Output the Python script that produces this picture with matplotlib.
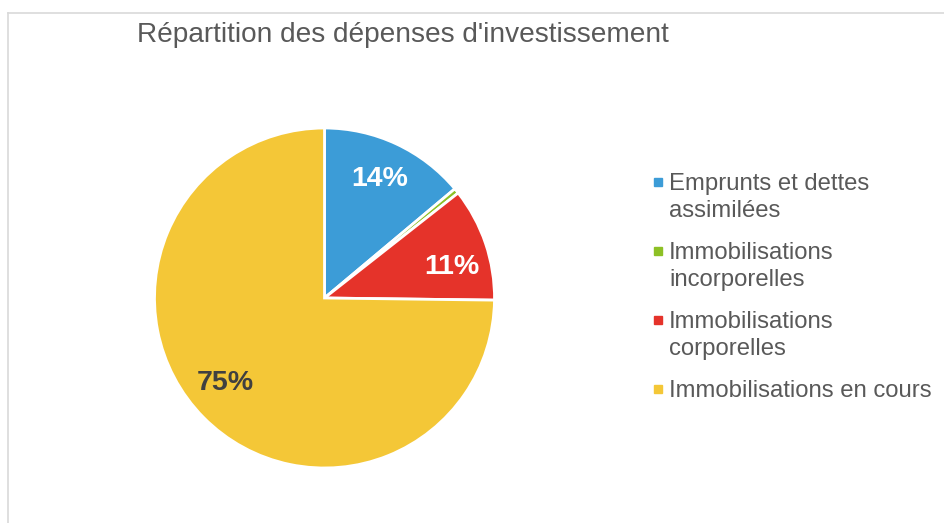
import matplotlib
matplotlib.use("Agg")
import matplotlib.pyplot as plt
from matplotlib.lines import Line2D
import numpy as np

plt.rcParams["font.family"] = ["Liberation Sans", "DejaVu Sans"]

categories = [
    "Emprunts et dettes\nassimilées",
    "Immobilisations\nincorporelles",
    "Immobilisations\ncorporelles",
    "Immobilisations en cours",
]
shares = [13.9, 0.5, 10.8, 74.8]
labels_pct = ["14%", "", "11%", "75%"]
colors = ["#3C9CD7", "#8DC025", "#E5332A", "#F4C737"]
label_colors = ["white", "white", "white", "#404040"]

W, H = 945, 523
fig = plt.figure(figsize=(W / 100, H / 100), dpi=100)

# light frame around the chart area (cut off at right and bottom)
fig.add_artist(Line2D([8 / W, 8 / W], [0, 1 - 13 / H], color="#d9d9d9", lw=1.2))
fig.add_artist(Line2D([8 / W, 1], [1 - 13 / H, 1 - 13 / H], color="#d9d9d9", lw=1.2))

cx, cy, r = 324.5, 298, 170
ax = fig.add_axes([(cx - r) / W, (H - cy - r) / H, 2 * r / W, 2 * r / H])
wedges, _ = ax.pie(
    shares,
    colors=colors,
    startangle=90,
    counterclock=False,
    wedgeprops={"edgecolor": "white", "linewidth": 2},
    radius=1,
)
ax.set_xlim(-1, 1)
ax.set_ylim(-1, 1)
ax.axis("off")

# percentage labels (Excel puts them a bit off the mid-angle)
nudge = [0, 0, -5, -4]
for w, lab, c, dn in zip(wedges, labels_pct, label_colors, nudge):
    mid = np.deg2rad((w.theta1 + w.theta2) / 2 + dn)
    if lab:
        ax.text(0.77 * np.cos(mid), 0.77 * np.sin(mid), lab, ha="center", va="center",
                fontsize=20.5, fontweight="bold", color=c)

fig.text(137 / W, 1 - 35 / H, "Répartition des dépenses d'investissement",
         fontsize=20.2, color="#595959", ha="left", va="center")

# legend drawn by hand so the marker sits on the first line like in Excel
baseline = 190.0
line_h = 26.7
entry_gap = 15.6
for name, c in zip(categories, colors):
    fig.add_artist(Line2D([657.5 / W], [1 - (baseline - 8.5) / H], marker="s",
                          markersize=5.5, color=c, linestyle=""))
    for line in name.split("\n"):
        fig.text(669 / W, 1 - baseline / H, line, fontsize=17.2, color="#595959",
                 ha="left", va="baseline")
        baseline += line_h
    baseline += entry_gap

fig.savefig("out.png", dpi=100)
